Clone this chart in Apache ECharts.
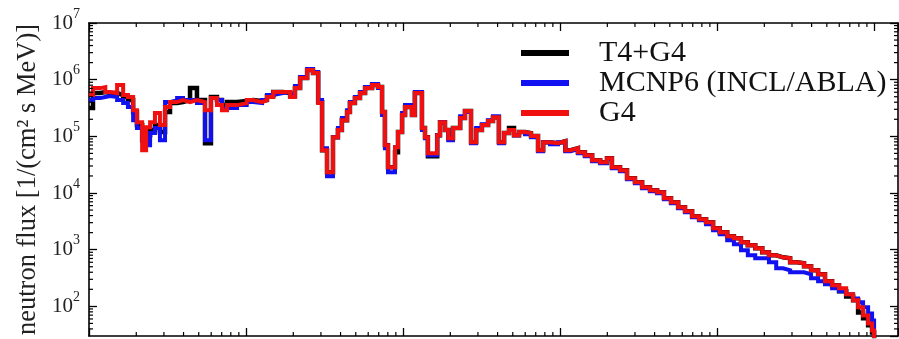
<!DOCTYPE html>
<html>
<head>
<meta charset="utf-8">
<script src="https://cdn.jsdelivr.net/npm/echarts@6/dist/echarts.min.js"></script>
<style>
  html, body { margin: 0; padding: 0; background: #ffffff; }
  #chart { width: 899px; height: 339px; }
</style>
</head>
<body>
<div id="chart"></div>
<script>
// Neutron energy bins: lower edges in MeV; the last entry closes the final bin.
const energyMeV = [
  0.00100, 0.00106, 0.00118, 0.00127, 0.00136, 0.00151, 0.00165, 0.00177, 0.00191, 0.00202,
  0.00218, 0.00231, 0.00245, 0.00263, 0.00283, 0.00305, 0.00328, 0.00364, 0.00397, 0.00440,
  0.00487, 0.00548, 0.00598, 0.00653, 0.00703, 0.00757, 0.00877, 0.0101, 0.0111, 0.01265,
  0.0136, 0.0149, 0.0172, 0.0191, 0.0205, 0.0221, 0.0245, 0.0267, 0.0288, 0.0305,
  0.0328, 0.0358, 0.0385, 0.0408, 0.0440, 0.0459, 0.0494, 0.0532, 0.0573, 0.0635,
  0.0693, 0.0735, 0.0767, 0.0802, 0.0889, 0.0929, 0.0986, 0.103, 0.114, 0.119,
  0.132, 0.138, 0.144, 0.165, 0.172, 0.185, 0.194, 0.208, 0.231, 0.248,
  0.271, 0.292, 0.318, 0.348, 0.374, 0.408, 0.440, 0.473, 0.509, 0.548,
  0.598, 0.653, 0.724, 0.780, 0.863, 0.970, 1.08, 1.17, 1.30, 1.44,
  1.60, 1.80, 1.99, 2.14, 2.41, 2.67, 3.00, 3.33, 3.74, 4.15,
  4.59, 5.09, 5.65, 6.25, 6.93, 7.68, 8.51, 9.43, 10.4, 11.6,
  12.8, 14.2, 15.7, 17.5, 19.4, 21.4, 23.8, 26.3, 29.2, 32.3,
  35.8, 39.7, 44.0, 48.7, 54.0, 59.8, 66.4, 73.5, 79.1, 85.1,
  91.6, 97.1, 100
];

// Flux per bin, 1/(cm^2 s MeV); the closing entry falls below the axis floor.
const fluxT4G4 = [
  3.15e5, 5.80e5, 6.04e5, 5.80e5, 5.80e5, 5.35e5, 4.93e5, 4.36e5, 2.68e5, 1.58e5,
  8.57e4, 1.05e5, 1.29e5, 1.58e5, 1.19e5, 2.68e5, 3.86e5, 4.02e5, 4.36e5, 7.10e5,
  4.36e5, 7.59e4, 4.93e5, 4.36e5, 3.56e5, 4.02e5, 4.19e5, 4.36e5, 4.19e5, 4.36e5,
  5.13e5, 6.04e5, 5.80e5, 5.13e5, 7.10e5, 1.067e6, 1.48e6, 1.31e6, 4.02e5, 5.71e4,
  2.33e4, 9.68e4, 1.29e5, 1.93e5, 2.68e5, 3.86e5, 4.73e5, 5.80e5, 7.10e5, 8.03e5,
  7.40e5, 2.68e5, 6.99e4, 2.86e4, 5.26e4, 1.19e5, 2.37e5, 3.28e5, 2.37e5, 5.80e5,
  1.40e5, 9.68e4, 4.47e4, 1.05e5, 1.78e5, 1.29e5, 9.29e4, 1.40e5, 2.10e5, 2.79e5,
  7.90e4, 1.29e5, 1.58e5, 1.86e5, 2.18e5, 7.90e4, 1.14e5, 1.40e5, 1.05e5, 1.19e5,
  1.14e5, 1.01e5, 5.71e4, 7.90e4, 7.59e4, 8.23e4, 5.71e4, 6.19e4, 5.26e4, 4.66e4,
  3.80e4, 3.50e4, 4.12e4, 2.86e4, 2.53e4, 1.83e4, 1.55e4, 1.27e4, 1.12e4, 1.03e4,
  8.09e3, 6.88e3, 5.61e3, 4.77e3, 3.89e3, 3.44e3, 3.05e3, 2.39e3, 2.03e3, 1.73e3,
  1.59e3, 1.35e3, 1.20e3, 1.06e3, 900, 796, 734, 705, 599, 575,
  509, 433, 368, 277, 235, 184, 150, 128, 78.3, 61.4,
  46.2, 34.7, 1
];

const fluxMCNP6 = [
  4.36e5, 4.73e5, 4.93e5, 5.13e5, 4.93e5, 4.36e5, 3.86e5, 3.28e5, 1.93e5, 1.40e5,
  8.57e4, 6.99e4, 1.14e5, 1.40e5, 8.57e4, 4.02e5, 4.36e5, 4.73e5, 4.36e5, 4.36e5,
  3.86e5, 8.57e4, 4.73e5, 4.36e5, 3.15e5, 3.15e5, 3.56e5, 4.02e5, 3.86e5, 4.36e5,
  5.35e5, 5.80e5, 6.04e5, 5.35e5, 7.71e5, 1.111e6, 1.54e6, 1.362e6, 4.36e5, 6.19e4,
  1.98e4, 9.68e4, 1.40e5, 2.10e5, 2.90e5, 4.02e5, 4.93e5, 6.04e5, 7.40e5, 8.36e5,
  7.10e5, 2.37e5, 6.19e4, 2.33e4, 6.45e4, 1.19e5, 2.57e5, 3.56e5, 2.57e5, 6.04e5,
  1.29e5, 9.29e4, 4.66e4, 1.05e5, 1.78e5, 1.29e5, 8.57e4, 1.40e5, 2.27e5, 2.68e5,
  7.59e4, 1.40e5, 1.64e5, 1.93e5, 2.27e5, 7.59e4, 1.14e5, 1.29e5, 1.05e5, 1.19e5,
  1.09e5, 9.68e4, 5.48e4, 7.90e4, 7.28e4, 7.90e4, 5.48e4, 5.94e4, 5.05e4, 4.47e4,
  3.65e4, 3.36e4, 3.96e4, 2.74e4, 2.43e4, 1.75e4, 1.49e4, 1.22e4, 1.08e4, 9.92e3,
  7.77e3, 6.60e3, 5.39e3, 4.58e3, 3.74e3, 3.31e3, 2.81e3, 2.20e3, 1.87e3, 1.47e3,
  1.25e3, 976, 796, 705, 705, 599, 469, 433, 399, 399,
  368, 312, 277, 245, 208, 184, 163, 138, 118, 96.0,
  75.2, 56.6, 1
];

const fluxG4 = [
  5.35e5, 7.10e5, 7.40e5, 6.04e5, 5.80e5, 8.03e5, 5.35e5, 4.93e5, 2.90e5, 1.78e5,
  5.71e4, 1.45e5, 1.78e5, 2.57e5, 1.58e5, 3.28e5, 4.02e5, 4.36e5, 4.02e5, 4.36e5,
  4.02e5, 2.90e5, 4.73e5, 3.56e5, 2.90e5, 3.56e5, 3.86e5, 4.36e5, 4.02e5, 4.36e5,
  4.93e5, 6.04e5, 6.04e5, 4.93e5, 7.10e5, 1.067e6, 1.48e6, 1.31e6, 3.86e5, 5.71e4,
  2.33e4, 9.68e4, 1.29e5, 1.93e5, 2.68e5, 3.86e5, 4.73e5, 5.80e5, 7.10e5, 8.03e5,
  7.40e5, 2.68e5, 6.99e4, 2.86e4, 6.45e4, 1.19e5, 2.37e5, 3.28e5, 2.37e5, 5.80e5,
  1.40e5, 9.68e4, 5.05e4, 1.05e5, 1.78e5, 1.29e5, 9.29e4, 1.40e5, 2.10e5, 2.79e5,
  7.90e4, 1.29e5, 1.58e5, 1.86e5, 2.18e5, 7.90e4, 1.14e5, 1.29e5, 1.05e5, 1.19e5,
  1.14e5, 1.01e5, 5.71e4, 7.90e4, 7.59e4, 8.23e4, 5.71e4, 6.19e4, 5.26e4, 4.66e4,
  3.80e4, 3.50e4, 4.12e4, 2.86e4, 2.53e4, 1.83e4, 1.55e4, 1.27e4, 1.12e4, 1.03e4,
  8.09e3, 6.88e3, 5.61e3, 4.77e3, 3.89e3, 3.44e3, 3.05e3, 2.39e3, 2.03e3, 1.73e3,
  1.59e3, 1.35e3, 1.20e3, 1.06e3, 900, 796, 734, 705, 599, 575,
  509, 433, 368, 277, 235, 208, 163, 128, 96.0, 69.3,
  50.1, 37.7, 1
];

const seriesNames = ['T4+G4', 'MCNP6 (INCL/ABLA)', 'G4'];
const seriesColors = ['#000000', '#1010f0', '#f01010'];

// Axis ranges and the decades that carry 2..9 minor ticks
const X_MIN = 0.001, X_MAX = 142;
const Y_MIN = 30, Y_MAX = 1e7;
const minorSteps = [2, 3, 4, 5, 6, 7, 8, 9];
const xDecades = [0.001, 0.01, 0.1, 1, 10, 100];
const yDecades = [10, 100, 1000, 1e4, 1e5, 1e6];

function minorValues(decades, lo, hi) {
  const out = [];
  decades.forEach(d => minorSteps.forEach(m => {
    const v = d * m;
    if (v > lo && v < hi) out.push(v);
  }));
  return out;
}

const SERIF = '"Liberation Serif", "Times New Roman", serif';
const TICK = { stroke: '#000', lineWidth: 1.2 };

function pairs(values) {
  return energyMeV.map((e, i) => [e, values[i]]);
}

const fluxSets = [fluxT4G4, fluxMCNP6, fluxG4];
const widths = [4.5, 4, 4];

const lineSeries = fluxSets.map((vals, i) => ({
  name: seriesNames[i],
  type: 'line',
  step: 'end',
  data: pairs(vals),
  showSymbol: false,
  symbol: 'none',
  clip: true,
  lineStyle: { color: seriesColors[i], width: widths[i], join: 'miter' },
  itemStyle: { color: seriesColors[i] },
  z: 3 + i
}));

const xMinorSeries = {
  name: 'xMinorTicks',
  type: 'custom',
  silent: true,
  clip: false,
  z: 10,
  data: minorValues(xDecades, X_MIN, X_MAX).map(v => [v, Y_MIN]),
  renderItem(params, api) {
    const cs = params.coordSys;
    const x = api.coord([api.value(0), Y_MIN])[0];
    const b = cs.y + cs.height, t = cs.y;
    return { type: 'group', children: [
      { type: 'line', shape: { x1: x, y1: b, x2: x, y2: b - 4 }, style: TICK },
      { type: 'line', shape: { x1: x, y1: t, x2: x, y2: t + 4 }, style: TICK }
    ] };
  }
};

const yMinorSeries = {
  name: 'yMinorTicks',
  type: 'custom',
  silent: true,
  clip: false,
  z: 10,
  data: minorValues(yDecades, Y_MIN, Y_MAX).map(v => [X_MIN, v]),
  renderItem(params, api) {
    const cs = params.coordSys;
    const y = api.coord([X_MIN, api.value(1)])[1];
    const l = cs.x, r = cs.x + cs.width;
    return { type: 'group', children: [
      { type: 'line', shape: { x1: l, y1: y, x2: l + 4, y2: y }, style: TICK },
      { type: 'line', shape: { x1: r, y1: y, x2: r - 4, y2: y }, style: TICK }
    ] };
  }
};

const axisLine = { show: true, lineStyle: { color: '#000', width: 1.6 } };
const majorTick = { show: true, inside: true, length: 8, lineStyle: { color: '#000', width: 1.3 } };

const chart = echarts.init(document.getElementById('chart'), null, { renderer: 'canvas' });
chart.setOption({
  animation: false,
  backgroundColor: '#ffffff',
  grid: { left: 89, right: 1, top: 23, bottom: 3, containLabel: false },
  legend: {
    data: seriesNames,
    orient: 'vertical',
    left: 516,
    top: 33,
    itemGap: 0,
    itemWidth: 48,
    itemHeight: 6,
    icon: 'rect',
    selectedMode: false,
    textStyle: {
      fontFamily: SERIF,
      fontSize: 30,
      color: '#111',
      lineHeight: 30,
      padding: [0, 0, 0, 25]
    }
  },
  xAxis: [
    {
      type: 'log', logBase: 10, min: X_MIN, max: X_MAX, position: 'bottom',
      axisLine, axisTick: majorTick, axisLabel: { show: false },
      splitLine: { show: false }, minorTick: { show: false }
    },
    {
      type: 'log', logBase: 10, min: X_MIN, max: X_MAX, position: 'top',
      axisLine, axisTick: majorTick, axisLabel: { show: false },
      splitLine: { show: false }
    }
  ],
  yAxis: [
    {
      type: 'log', logBase: 10, min: Y_MIN, max: Y_MAX, position: 'left',
      axisLine, axisTick: majorTick,
      splitLine: { show: false },
      name: 'neutron flux [1/(cm² s MeV)]',
      nameLocation: 'middle',
      nameRotate: 90,
      nameGap: 47,
      nameTextStyle: { fontFamily: SERIF, fontSize: 26.5, color: '#222' },
      axisLabel: {
        margin: 9,
        showMinLabel: false,
        formatter: v => '{b|10}{s|' + Math.round(Math.log10(v)) + '}',
        rich: {
          b: { fontFamily: SERIF, fontSize: 21, color: '#222' },
          s: { fontFamily: SERIF, fontSize: 14, color: '#222', padding: [0, 0, 18, 0] }
        }
      }
    },
    {
      type: 'log', logBase: 10, min: Y_MIN, max: Y_MAX, position: 'right',
      axisLine, axisTick: majorTick, axisLabel: { show: false },
      splitLine: { show: false }
    }
  ],
  series: [...lineSeries, xMinorSeries, yMinorSeries]
});
</script>
</body>
</html>
